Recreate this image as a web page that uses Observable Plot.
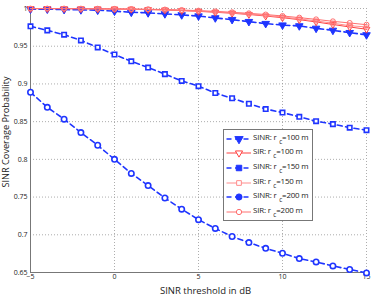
<!DOCTYPE html>
<html><head><meta charset="utf-8">
<script src="https://cdn.jsdelivr.net/npm/d3@7"></script>
<script src="https://cdn.jsdelivr.net/npm/@observablehq/plot@0.6"></script>
<style>
body{margin:0;background:#fff;font-family:"Open Sans",sans-serif;}
#wrap{position:relative;width:374px;height:296px;}
#ylab{position:absolute;left:6px;top:132px;transform:translate(-50%,-50%) rotate(-90deg);white-space:nowrap;font-size:9.2px;color:#222;line-height:1;}
#legend{position:absolute;left:223px;top:129px;width:90px;height:92px;background:#fff;border:1px solid #777;box-sizing:border-box;font-size:7.9px;color:#222;}
.row{position:absolute;left:0;height:12px;display:flex;align-items:center;}
.row svg{margin-left:2px;}
.row span{margin-left:1px;white-space:nowrap;letter-spacing:-0.15px;}
sub{font-size:6.3px;vertical-align:-4px;margin-left:2.5px;}
</style></head>
<body><div id="wrap"><div id="ylab"></div><div id="legend"></div></div>
<script>
const thresholds = [-5,-4,-3,-2,-1,0,1,2,3,4,5,6,7,8,9,10,11,12,13,14,15];
const sinr100 = [0.9991,0.9991,0.9986,0.9982,0.9977,0.9964,0.995,0.9942,0.9929,0.9915,0.990,0.9875,0.9853,0.9826,0.980,0.978,0.9769,0.9737,0.971,0.968,0.965];
const sir100  = [0.9999,0.9999,0.9998,0.9997,0.9995,0.9993,0.999,0.9986,0.998,0.9972,0.9962,0.995,0.9937,0.9921,0.990,0.9878,0.9852,0.9822,0.9788,0.9755,0.9725];
const sinr150 = [0.9764,0.971,0.9653,0.9577,0.9484,0.939,0.930,0.9217,0.913,0.904,0.897,0.888,0.881,0.8737,0.8667,0.862,0.8564,0.8506,0.8467,0.842,0.8387];
const sir150  = [0.9999,0.9999,0.9998,0.9997,0.9996,0.9994,0.9991,0.9987,0.9982,0.9975,0.9966,0.9955,0.9942,0.9926,0.9908,0.9887,0.9862,0.9835,0.9805,0.9772,0.9755];
const sinr200 = [0.889,0.869,0.8533,0.8355,0.8187,0.800,0.7813,0.7653,0.7488,0.734,0.720,0.7084,0.6977,0.6897,0.682,0.6755,0.6684,0.664,0.6587,0.654,0.6494];
const sir200  = [0.9999,0.9999,0.9999,0.9998,0.9997,0.9995,0.9993,0.999,0.9986,0.998,0.9972,0.9962,0.995,0.9936,0.992,0.9901,0.9879,0.9856,0.983,0.9808,0.9785];
const xTicks = [-5,0,5,10,15];
const yTicks = [0.65,0.7,0.75,0.8,0.85,0.9,0.95,1];
const labels = ["SINR: r","SIR: r","SINR: r","SIR: r","SINR: r","SIR: r"];
const radii = ["=100 m","=100 m","=150 m","=150 m","=200 m","=200 m"];
const xTitle = "SINR threshold in dB";
const yTitle = "SINR Coverage Probability";

const BLUE = "#1f35ff";
const series = [
  {v: sinr100, stroke: BLUE, dash: "5,3.5", w: 1.6, symbol: "triangle", rotate: 180, fill: BLUE, r: 2.8},
  {v: sir100, stroke: "#ff4040", dash: null, w: 1, symbol: "triangle", rotate: 180, fill: "none", r: 2.5},
  {v: sinr150, stroke: BLUE, dash: "5,3.5", w: 1.6, symbol: "square", rotate: 0, fill: "white", r: 2.5},
  {v: sir150, stroke: "#ff8c8c", dash: null, w: 1, symbol: "square", rotate: 0, fill: "none", r: 2.3},
  {v: sinr200, stroke: BLUE, dash: "5,3.5", w: 1.6, symbol: "circle", rotate: 0, fill: "white", r: 2.7},
  {v: sir200, stroke: "#ff7070", dash: null, w: 1, symbol: "circle", rotate: 0, fill: "none", r: 2.5}
];
const marks = [
  Plot.gridX(xTicks, {stroke: "#999", strokeOpacity: 0.8, strokeDasharray: "1,2"}),
  Plot.gridY(yTicks, {stroke: "#999", strokeOpacity: 0.8, strokeDasharray: "1,2"}),
  Plot.ruleX([-5], {stroke: "#777"}),
  Plot.ruleY([0.65], {stroke: "#777"}),
  Plot.axisX(xTicks, {tickSize: 0, tickPadding: 2, fontSize: 7, tickFormat: d => d < 0 ? "\u2212" + (-d) : String(d), label: null}),
  Plot.axisY(yTicks, {tickSize: 0, tickPadding: 3, fontSize: 7, tickFormat: d => String(+d.toFixed(2)), label: null})
];
for (const s of series) {
  const data = thresholds.map((x, i) => ({x, y: s.v[i]}));
  marks.push(Plot.line(data, {x: "x", y: "y", stroke: s.stroke, strokeWidth: s.w, strokeDasharray: s.dash}));
  marks.push(Plot.dot(data, {x: "x", y: "y", symbol: s.symbol, rotate: s.rotate, r: s.r, stroke: s.stroke, fill: s.fill, strokeWidth: s.fill === "white" ? 1.6 : 1}));
}
marks.push(Plot.text([xTitle], {frameAnchor: "bottom", dx: 7, dy: 21, fontSize: 9.5, fill: "#222"}));

const chart = Plot.plot({
  width: 374, height: 296,
  marginLeft: 30, marginRight: 8, marginTop: 8, marginBottom: 24,
  x: {domain: [-5, 15]},
  y: {domain: [0.65, 1]},
  style: {fontFamily: "'Open Sans', sans-serif", background: "white", color: "#222"},
  marks
});
const wrap = document.getElementById("wrap");
wrap.insertBefore(chart, wrap.firstChild);
document.getElementById("ylab").textContent = yTitle;

const leg = document.getElementById("legend");
series.forEach((s, i) => {
  const row = document.createElement("div");
  row.className = "row";
  row.style.top = (2.5 + i * 14.7) + "px";
  const ns = "http://www.w3.org/2000/svg";
  const svg = document.createElementNS(ns, "svg");
  svg.setAttribute("width", 26); svg.setAttribute("height", 12);
  const ln = document.createElementNS(ns, "line");
  ln.setAttribute("x1", 0.5); ln.setAttribute("x2", 25); ln.setAttribute("y1", 6); ln.setAttribute("y2", 6);
  ln.setAttribute("stroke", s.stroke); ln.setAttribute("stroke-width", s.w);
  if (s.dash) ln.setAttribute("stroke-dasharray", "5,3.5");
  svg.appendChild(ln);
  const sym = d3.symbol(s.symbol === "triangle" ? d3.symbolTriangle : s.symbol === "square" ? d3.symbolSquare : d3.symbolCircle, s.dash ? 30 : 22)();
  const p = document.createElementNS(ns, "path");
  p.setAttribute("d", sym);
  p.setAttribute("transform", `translate(13,6) rotate(${s.rotate})`);
  p.setAttribute("fill", s.dash ? s.stroke : "white");
  p.setAttribute("stroke", s.stroke);
  svg.appendChild(p);
  row.appendChild(svg);
  const t = document.createElement("span");
  t.innerHTML = labels[i] + "<sub>c</sub>" + radii[i];
  row.appendChild(t);
  leg.appendChild(row);
});
</script></body></html>
